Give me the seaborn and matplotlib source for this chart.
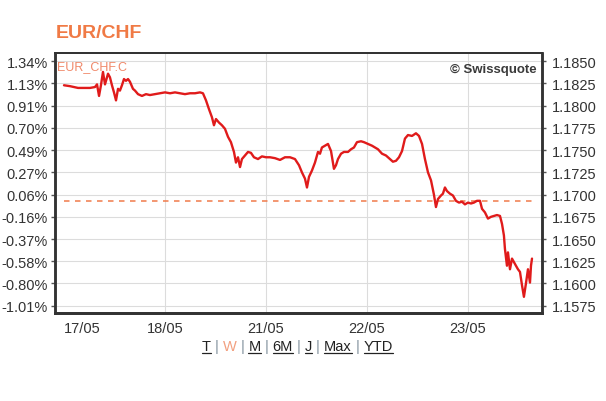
import matplotlib
matplotlib.use("Agg")
from matplotlib import pyplot as plt
from matplotlib.lines import Line2D
import seaborn as sns

# EUR/CHF intraday, x = trading day index (0 = 17/05)
t = [0.000, 0.059, 0.139, 0.208, 0.257, 0.307, 0.327, 0.347, 0.366, 0.386, 0.406, 0.436, 0.455, 0.475, 0.495, 0.515,
     0.535, 0.554, 0.574, 0.594, 0.614, 0.634, 0.653, 0.683, 0.703, 0.733, 0.772, 0.812, 0.851, 0.901, 0.950,
     1.000, 1.050, 1.099, 1.149, 1.198, 1.248, 1.297, 1.347, 1.376, 1.406, 1.436, 1.465, 1.485, 1.505, 1.535,
     1.564, 1.594, 1.624, 1.653, 1.683, 1.703, 1.723, 1.743, 1.762, 1.792, 1.822, 1.851, 1.881, 1.921, 1.960,
     2.000, 2.040, 2.089, 2.139, 2.188, 2.238, 2.287, 2.327, 2.356, 2.386, 2.406, 2.426, 2.455, 2.485, 2.515,
     2.535, 2.554, 2.584, 2.614, 2.644, 2.673, 2.693, 2.713, 2.743, 2.772, 2.812, 2.842, 2.871, 2.901, 2.941, 2.970,
     3.010, 3.050, 3.079, 3.109, 3.149, 3.188, 3.228, 3.257, 3.287, 3.317, 3.347, 3.376, 3.406, 3.446, 3.485,
     3.515, 3.545, 3.574, 3.604, 3.634, 3.663, 3.683, 3.703, 3.733, 3.752, 3.772, 3.792, 3.822, 3.851, 3.881,
     3.911, 3.941, 3.970,
     4.000, 4.030, 4.059, 4.089, 4.119, 4.139, 4.168, 4.198, 4.228, 4.257, 4.287, 4.317, 4.337, 4.356, 4.366,
     4.386, 4.396, 4.416, 4.436, 4.455, 4.475, 4.495, 4.515, 4.535, 4.554, 4.574, 4.594, 4.614, 4.624, 4.634]

price = [1.1823, 1.1822, 1.1820, 1.1820, 1.1820, 1.1821, 1.1824, 1.1811, 1.1823, 1.1838, 1.1824, 1.1836, 1.1832,
         1.1823, 1.1815, 1.1806, 1.1819, 1.1817, 1.1823, 1.1830, 1.1828, 1.1830, 1.1827, 1.1819, 1.1817, 1.1813,
         1.1811, 1.1813, 1.1812, 1.1813, 1.1814,
         1.1815, 1.1814, 1.1815, 1.1814, 1.1813, 1.1814, 1.1814, 1.1815, 1.1814, 1.1806, 1.1796, 1.1787, 1.1778,
         1.1785, 1.1781, 1.1778, 1.1774, 1.1765, 1.1759, 1.1748, 1.1736, 1.1742, 1.1731, 1.1740, 1.1744, 1.1748,
         1.1747, 1.1742, 1.1740, 1.1743,
         1.1742, 1.1742, 1.1741, 1.1739, 1.1742, 1.1742, 1.1740, 1.1733, 1.1725, 1.1718, 1.1708, 1.1720, 1.1727,
         1.1736, 1.1748, 1.1746, 1.1753, 1.1755, 1.1757, 1.1749, 1.1729, 1.1733, 1.1740, 1.1746, 1.1748, 1.1748,
         1.1751, 1.1753, 1.1759, 1.1760, 1.1759,
         1.1757, 1.1755, 1.1753, 1.1751, 1.1746, 1.1744, 1.1740, 1.1737, 1.1738, 1.1742, 1.1749, 1.1763, 1.1767,
         1.1766, 1.1769, 1.1766, 1.1757, 1.1740, 1.1725, 1.1716, 1.1700, 1.1686, 1.1695, 1.1699, 1.1701, 1.1708,
         1.1704, 1.1701, 1.1699, 1.1693, 1.1691, 1.1692, 1.1689,
         1.1691, 1.1690, 1.1691, 1.1693, 1.1693, 1.1684, 1.1680, 1.1673, 1.1675, 1.1676, 1.1677, 1.1676, 1.1667,
         1.1654, 1.1639, 1.1620, 1.1635, 1.1616, 1.1628, 1.1624, 1.1620, 1.1616, 1.1613, 1.1598, 1.1585, 1.1600,
         1.1616, 1.1601, 1.1620, 1.1628]

prev_close = 1.1693

price_ticks = [1.1850, 1.1825, 1.1800, 1.1775, 1.1750, 1.1725, 1.1700, 1.1675, 1.1650, 1.1625, 1.1600, 1.1575]
pct_labels = ["1.34%", "1.13%", "0.91%", "0.70%", "0.49%", "0.27%", "0.06%", "-0.16%", "-0.37%", "-0.58%",
              "-0.80%", "-1.01%"]
day_ticks = [0, 1, 2, 3, 4]
day_labels = ["17/05", "18/05", "21/05", "22/05", "23/05"]

links = ["T", "W", "M", "6M", "J", "Max", "YTD"]
active_link = "W"

sns.set_style("white")
plt.rcParams['font.family'] = ['Liberation Sans', 'DejaVu Sans']

TXT = '#333333'
fig = plt.figure(figsize=(6.06, 4.02), dpi=100)
ax = fig.add_axes([55 / 606, 1 - 314 / 402, 487 / 606, 260 / 402])

sns.lineplot(x=t, y=price, ax=ax, color='#e01b1b', linewidth=1.7, zorder=3)
ax.hlines(prev_close, t[0], t[-1], colors='#f07a4a', linewidth=1.1, linestyles=(0, (3.6, 3.6)), zorder=2)

ax.set_xlim(-0.089, 4.733)
ax.set_ylim(1.15668, 1.18593)

ax.set_xticks(day_ticks)
ax.set_xticklabels(day_labels)
ax.get_xticklabels()[0].set_horizontalalignment('left')
ax.set_yticks(price_ticks)
ax.set_yticklabels(pct_labels)
ax.grid(True, color='#dcdcdc', linewidth=0.8)
ax.get_xgridlines()[0].set_visible(False)
ax.tick_params(axis='x', length=0, labelsize=10.5, labelcolor=TXT, pad=6)
ax.tick_params(axis='y', length=3, width=1, color='#555555', labelsize=10.5, labelcolor=TXT, pad=2)

ax2 = ax.twinx()
ax2.set_ylim(ax.get_ylim())
ax2.set_yticks(price_ticks)
ax2.set_yticklabels([f"{v:.4f}" for v in price_ticks])
ax2.tick_params(axis='y', length=3, width=1, color='#555555', labelsize=10.5, labelcolor=TXT, pad=4)
ax2.grid(False)

for a in (ax, ax2):
    for s in a.spines.values():
        s.set_color('#333333')
        s.set_linewidth(1.3)
    a.spines['bottom'].set_linewidth(2.0)
    a.spines['left'].set_linewidth(1.8)
    a.spines['right'].set_linewidth(1.8)

ax.set_ylabel("")
ax.set_xlabel("")

fig.text(56 / 606, 1 - 33 / 402, "EUR/CHF", fontsize=14, fontweight='bold', color='#f07a45', va='center')
ax.text(0.005, 0.95, "EUR_CHF.C", transform=ax.transAxes, fontsize=9, color='#f0896a', va='center')
ax.text(0.988, 0.937, "\u00a9 Swissquote", transform=ax.transAxes, fontsize=9.5, fontweight='bold',
        color='#3a3a3a', ha='right', va='center')

# period links row with underlines
renderer = fig.canvas.get_renderer()
x = 202
base = 1 - 351 / 402
for i, lab in enumerate(links):
    col = '#f2a080' if lab == active_link else '#222222'
    tx = fig.text(x / 606, base, lab, fontsize=10.5, color=col, va='baseline')
    bb = tx.get_window_extent(renderer)
    if lab != active_link:
        fig.add_artist(Line2D([bb.x0 / 606, bb.x1 / 606], [base - 2.5 / 402] * 2, color='#222222',
                              linewidth=0.9, transform=fig.transFigure))
    x = bb.x1
    if i < len(links) - 1:
        sp = fig.text(x / 606, base, " | ", fontsize=10.5, color='#7d8c99', va='baseline')
        x = sp.get_window_extent(renderer).x1

fig.savefig("out.png", dpi=100)
